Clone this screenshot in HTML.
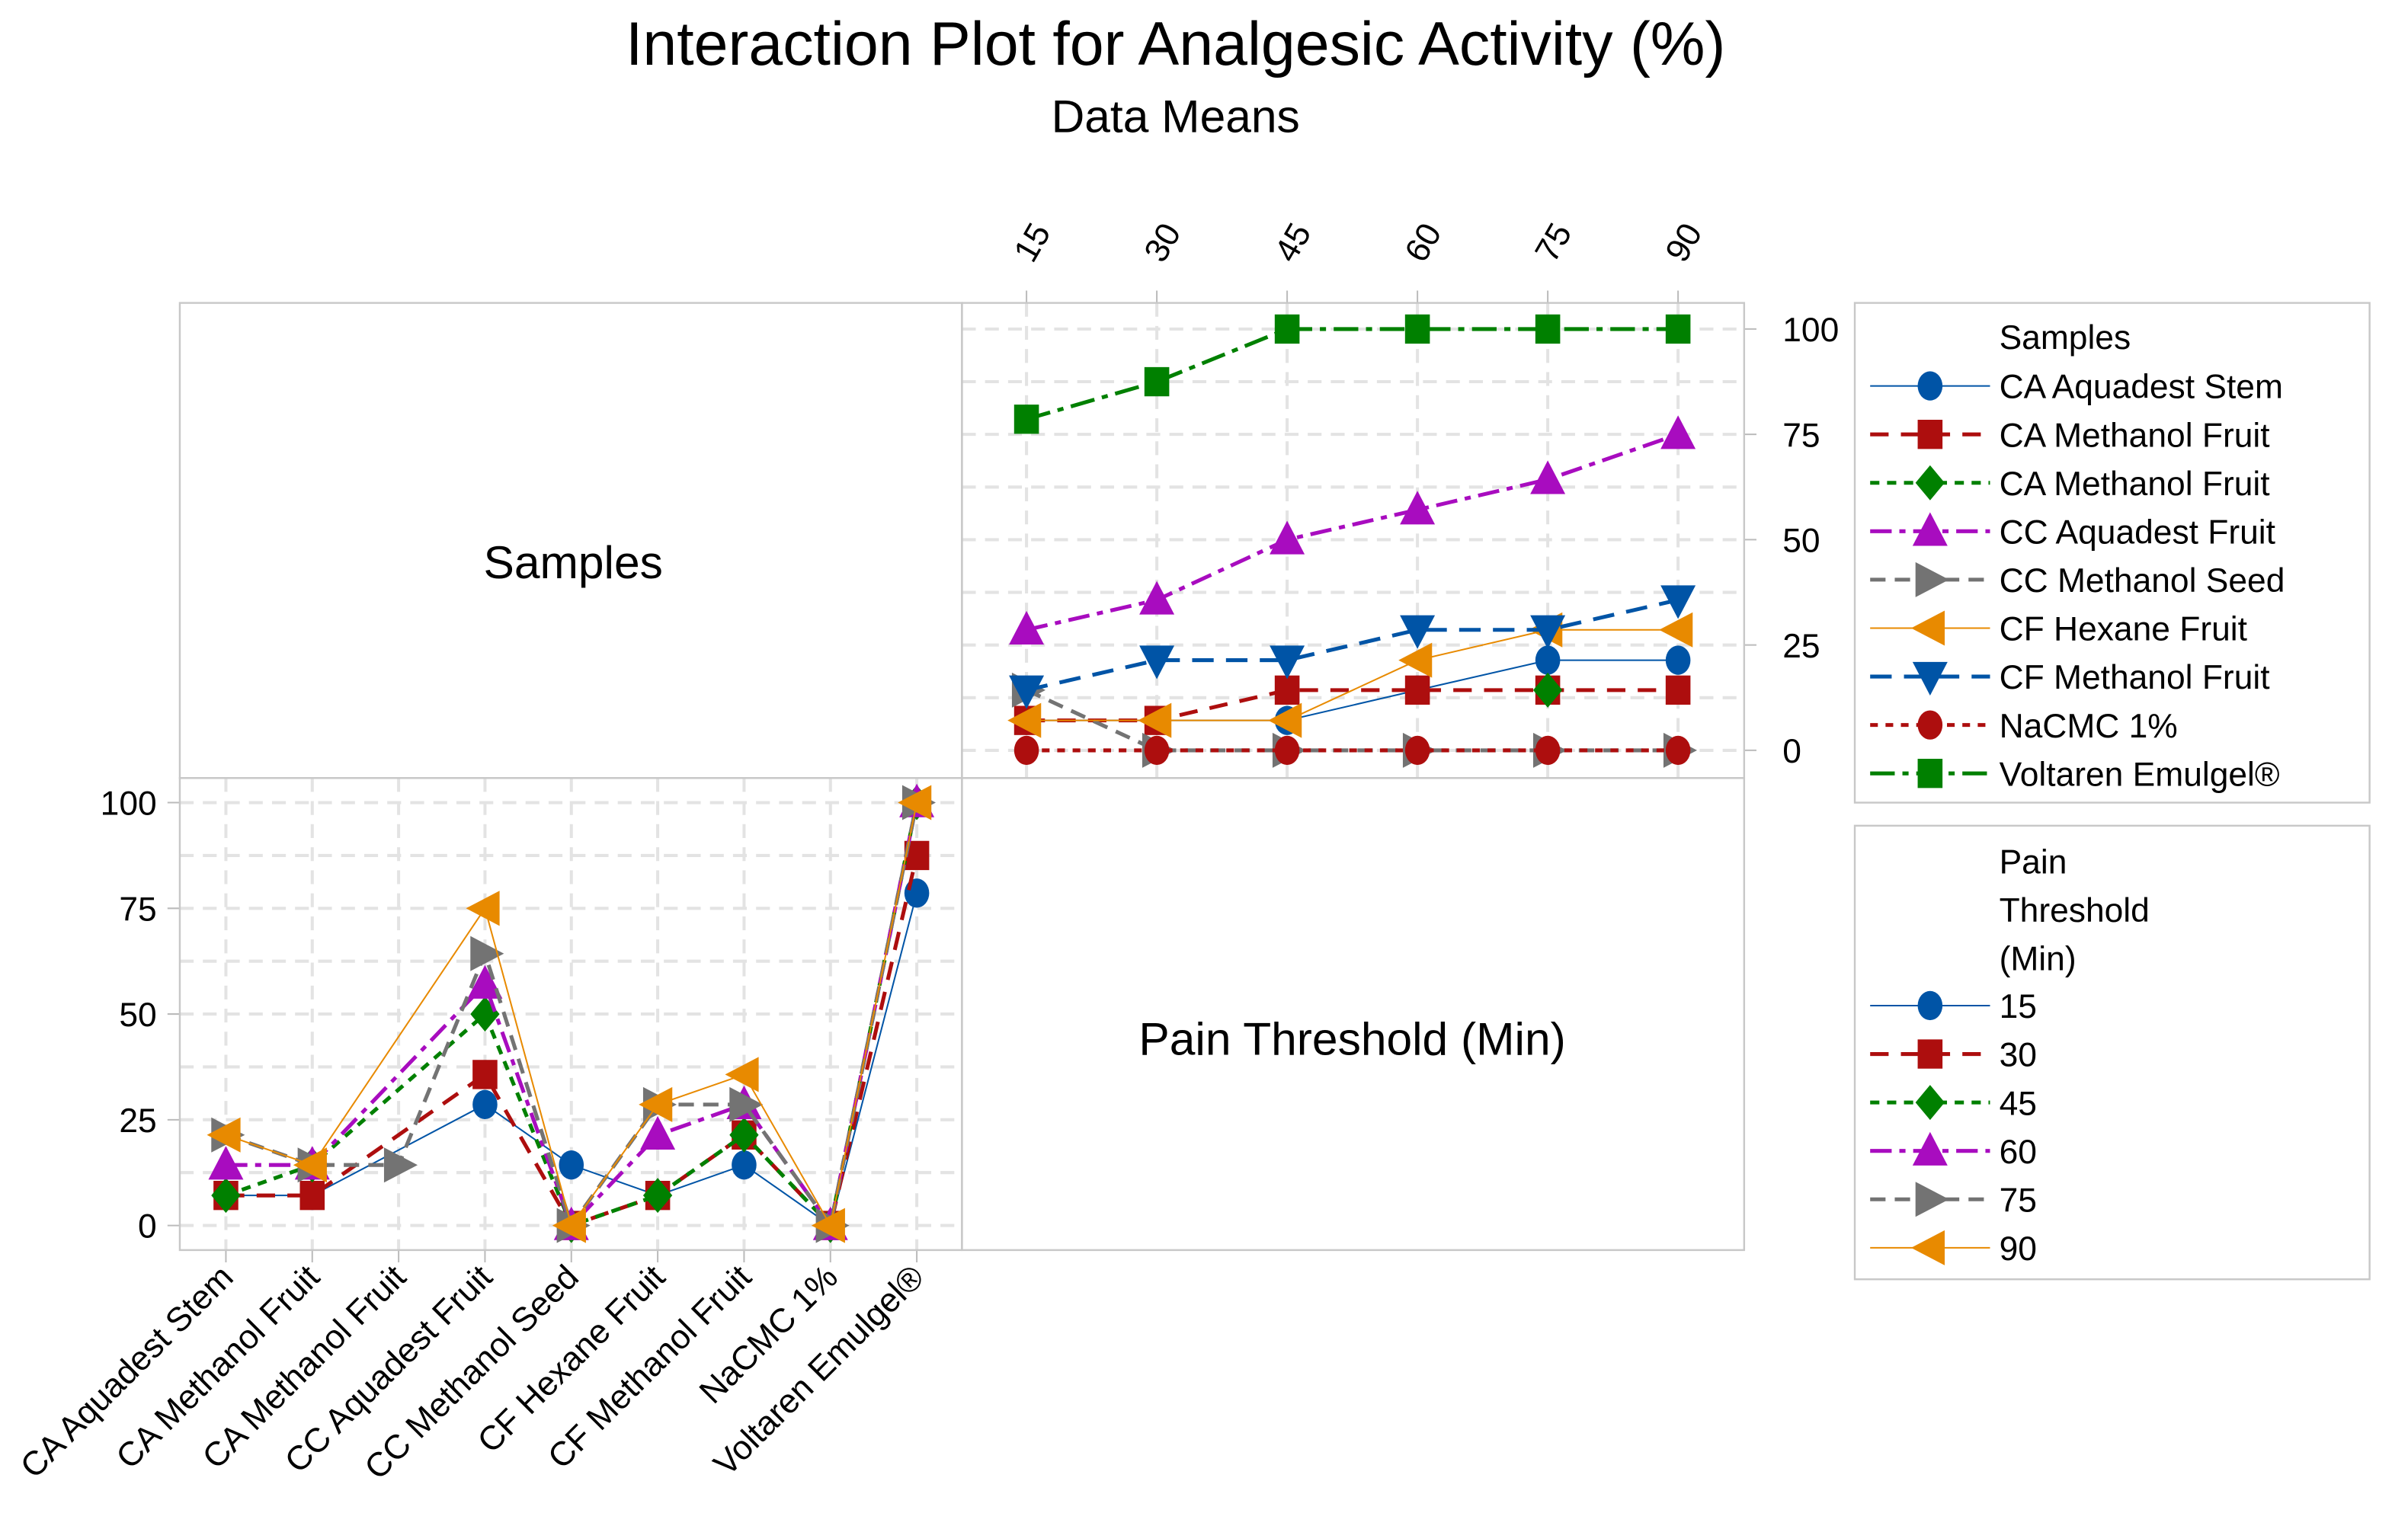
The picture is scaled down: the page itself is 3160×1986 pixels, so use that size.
<!DOCTYPE html>
<html><head><meta charset="utf-8"><style>
html,body{margin:0;padding:0;background:#fff;}
svg{display:block;font-family:"Liberation Sans",sans-serif;}
</style></head><body>
<svg id="chart" width="3160" height="1986" viewBox="0 0 1567 984" preserveAspectRatio="none" xmlns="http://www.w3.org/2000/svg">
<text x="765" y="42" text-anchor="middle" font-size="40">Interaction Plot for Analgesic Activity (%)</text>
<text x="765" y="86" text-anchor="middle" font-size="30">Data Means</text>
<g id="grid"></g>
<g id="frames"></g>
<g id="series"></g>
<g id="legend"></g>
</svg>
<script>
const times = ["15","30","45","60","75","90"];
const samples = ["CA Aquadest Stem","CA Methanol Fruit","CA Methanol Fruit","CC Aquadest Fruit","CC Methanol Seed","CF Hexane Fruit","CF Methanol Fruit","NaCMC 1%","Voltaren Emulgel®"];
const yTicks = [0,25,50,75,100];
const caAquadestStem = [7.1,7.1,7.1,14.3,21.4,21.4];
const caMethanolFruitA = [7.1,7.1,14.3,14.3,14.3,14.3];
const caMethanolFruitB = [null,null,null,null,14.3,null];
const ccAquadestFruit = [28.6,35.7,50,57.1,64.3,75];
const ccMethanolSeed = [14.3,0,0,0,0,0];
const cfHexaneFruit = [7.1,7.1,7.1,21.4,28.6,28.6];
const cfMethanolFruit = [14.3,21.4,21.4,28.6,28.6,35.7];
const naCMC = [0,0,0,0,0,0];
const voltaren = [78.6,87.5,100,100,100,100];
const sampleSeries = [caAquadestStem,caMethanolFruitA,caMethanolFruitB,ccAquadestFruit,ccMethanolSeed,cfHexaneFruit,cfMethanolFruit,naCMC,voltaren];

const NS="http://www.w3.org/2000/svg";
function mk(parent,tag,attrs,text){const e=document.createElementNS(NS,tag);for(const k in attrs)e.setAttribute(k,attrs[k]);if(text!==undefined)e.textContent=text;parent.appendChild(e);return e;}
const sStyles=[
 {c:"#0054a6",w:1,d:"",m:"circle"},
 {c:"#ad0e0e",w:2.5,d:"12 8",m:"square"},
 {c:"#008000",w:2.5,d:"6 5",m:"diamond"},
 {c:"#a80cbf",w:2.5,d:"14 5 4 5",m:"tup"},
 {c:"#737373",w:2.5,d:"10 6",m:"tright"},
 {c:"#e88a00",w:1,d:"",m:"tleft"},
 {c:"#0054a6",w:2.5,d:"14 8",m:"tdown"},
 {c:"#ad0e0e",w:2.5,d:"5 5",m:"circleR"},
 {c:"#008000",w:2.5,d:"16 5 4 5",m:"square"}];
const tStyles=[sStyles[0],sStyles[1],sStyles[2],sStyles[3],sStyles[4],sStyles[5]];
function marker(g,type,x,y,c){const s=9.5;let e;
 if(type==="circle"||type==="circleR")e=mk(g,"ellipse",{cx:x,cy:y,rx:s*0.85,ry:s,fill:c});
 else if(type==="square")e=mk(g,"rect",{x:x-s*0.85,y:y-s,width:s*1.7,height:s*2,fill:c});
 else if(type==="diamond")e=mk(g,"polygon",{points:`${x},${y-s*1.2} ${x+s},${y} ${x},${y+s*1.2} ${x-s},${y}`,fill:c});
 else if(type==="tup")e=mk(g,"polygon",{points:`${x},${y-s*1.3} ${x+s*1.2},${y+s} ${x-s*1.2},${y+s}`,fill:c});
 else if(type==="tdown")e=mk(g,"polygon",{points:`${x},${y+s*1.3} ${x+s*1.2},${y-s} ${x-s*1.2},${y-s}`,fill:c});
 else if(type==="tright")e=mk(g,"polygon",{points:`${x+s*1.3},${y} ${x-s},${y-s*1.2} ${x-s},${y+s*1.2}`,fill:c});
 else if(type==="tleft")e=mk(g,"polygon",{points:`${x-s*1.3},${y} ${x+s},${y-s*1.2} ${x+s},${y+s*1.2}`,fill:c});
 return e;}
const TR={x0:626,x1:1135,y0:197,y1:506}, BL={x0:117,x1:626,y0:506,y1:813};
const xTR=i=>668+i*84.8, yTR=v=>488-v*2.74;
const xBL=i=>147+i*56.2, yBL=v=>797-v*2.75;
const grid=document.getElementById('grid'), fr=document.getElementById('frames'), ser=document.getElementById('series'), leg=document.getElementById('legend');
const gc="#e3e3e3";
for(let v=0;v<=100;v+=12.5){
 let l=mk(grid,"line",{x1:TR.x0,x2:TR.x1,y1:yTR(v),y2:yTR(v),stroke:gc,"stroke-width":2,"stroke-dasharray":"9 6"});
 
 
 l=mk(grid,"line",{x1:BL.x0,x2:BL.x1,y1:yBL(v),y2:yBL(v),stroke:gc,"stroke-width":2,"stroke-dasharray":"9 6"});
 
 
}
times.forEach((t,i)=>{
 const l=mk(grid,"line",{x1:xTR(i),x2:xTR(i),y1:TR.y0,y2:TR.y1,stroke:gc,"stroke-width":2,"stroke-dasharray":"9 6"});
 
 
 mk(fr,"line",{x1:xTR(i),x2:xTR(i),y1:TR.y0-8,y2:TR.y0,stroke:"#bbb","stroke-width":1});
 const tx=mk(fr,"text",{x:xTR(i)+4,y:172,"font-size":22,"text-anchor":"start",transform:`rotate(-60 ${xTR(i)+4} 172)`},t);
 
 
});
samples.forEach((s,i)=>{
 const l=mk(grid,"line",{x1:xBL(i),x2:xBL(i),y1:BL.y0,y2:BL.y1,stroke:gc,"stroke-width":2,"stroke-dasharray":"9 6"});
 
 
 mk(fr,"line",{x1:xBL(i),x2:xBL(i),y1:BL.y1,y2:BL.y1+8,stroke:"#bbb","stroke-width":1});
 const tx=mk(fr,"text",{x:xBL(i)+6,y:832,"font-size":22,"text-anchor":"end",transform:`rotate(-45 ${xBL(i)+6} 832)`},s);
 
 
});
yTicks.forEach(v=>{
 mk(fr,"line",{x1:TR.x1,x2:TR.x1+8,y1:yTR(v),y2:yTR(v),stroke:"#bbb","stroke-width":1});
 let t=mk(fr,"text",{x:1160,y:yTR(v)+8,"font-size":22,"text-anchor":"start"},String(v));
 
 
 mk(fr,"line",{x1:BL.x0-8,x2:BL.x0,y1:yBL(v),y2:yBL(v),stroke:"#bbb","stroke-width":1});
 t=mk(fr,"text",{x:102,y:yBL(v)+8,"font-size":22,"text-anchor":"end"},String(v));
 
 
});
[[117,197,509,309],[626,197,509,309],[117,506,509,307],[626,506,509,307]].forEach(r=>mk(fr,"rect",{x:r[0],y:r[1],width:r[2],height:r[3],fill:"none",stroke:"#c8c8c8","stroke-width":1.2}));
let lab=mk(fr,"text",{x:373,y:376,"font-size":30,"text-anchor":"middle"},"Samples");


lab=mk(fr,"text",{x:880,y:686,"font-size":30,"text-anchor":"middle"},"Pain Threshold (Min)");


function drawSeries(vals,xf,yf,st,name){
 const g=mk(ser,"g",{});
 
 
 const pts=[];vals.forEach((v,i)=>{if(v!==null&&v!==undefined)pts.push([xf(i),yf(v)]);});
 if(pts.length>1)mk(g,"polyline",{points:pts.map(p=>p.join(",")).join(" "),fill:"none",stroke:st.c,"stroke-width":st.w,"stroke-dasharray":st.d});
 pts.forEach(p=>marker(g,st.m,p[0],p[1],st.c));
}
sampleSeries.forEach((arr,si)=>drawSeries(arr,xTR,yTR,sStyles[si],'series-sample-'+si));
times.forEach((t,ti)=>{const col=sampleSeries.map(a=>a[ti]);drawSeries(col,xBL,yBL,tStyles[ti],'series-time-'+t);});
mk(leg,"rect",{x:1207,y:197,width:335,height:325,fill:"none",stroke:"#c8c8c8","stroke-width":1.2});
lab=mk(leg,"text",{x:1301,y:227,"font-size":22},"Samples");


samples.forEach((s,i)=>{const y=251+i*31.5;const st=sStyles[i];
 const g=mk(leg,"g",{});
 
 
 mk(g,"line",{x1:1217,x2:1295,y1:y,y2:y,stroke:st.c,"stroke-width":st.w,"stroke-dasharray":st.d});
 marker(g,st.m,1256,y,st.c);
 mk(g,"text",{x:1301,y:y+8,"font-size":22},s);});
mk(leg,"rect",{x:1207,y:537,width:335,height:295,fill:"none",stroke:"#c8c8c8","stroke-width":1.2});
["Pain","Threshold","(Min)"].forEach((w,i)=>{const t=mk(leg,"text",{x:1301,y:568+i*31.5,"font-size":22},w);
 
 });
times.forEach((s,i)=>{const y=654+i*31.5;const st=tStyles[i];
 const g=mk(leg,"g",{});
 
 
 mk(g,"line",{x1:1217,x2:1295,y1:y,y2:y,stroke:st.c,"stroke-width":st.w,"stroke-dasharray":st.d});
 marker(g,st.m,1256,y,st.c);
 mk(g,"text",{x:1301,y:y+8,"font-size":22},s);});
</script>
</body></html>
